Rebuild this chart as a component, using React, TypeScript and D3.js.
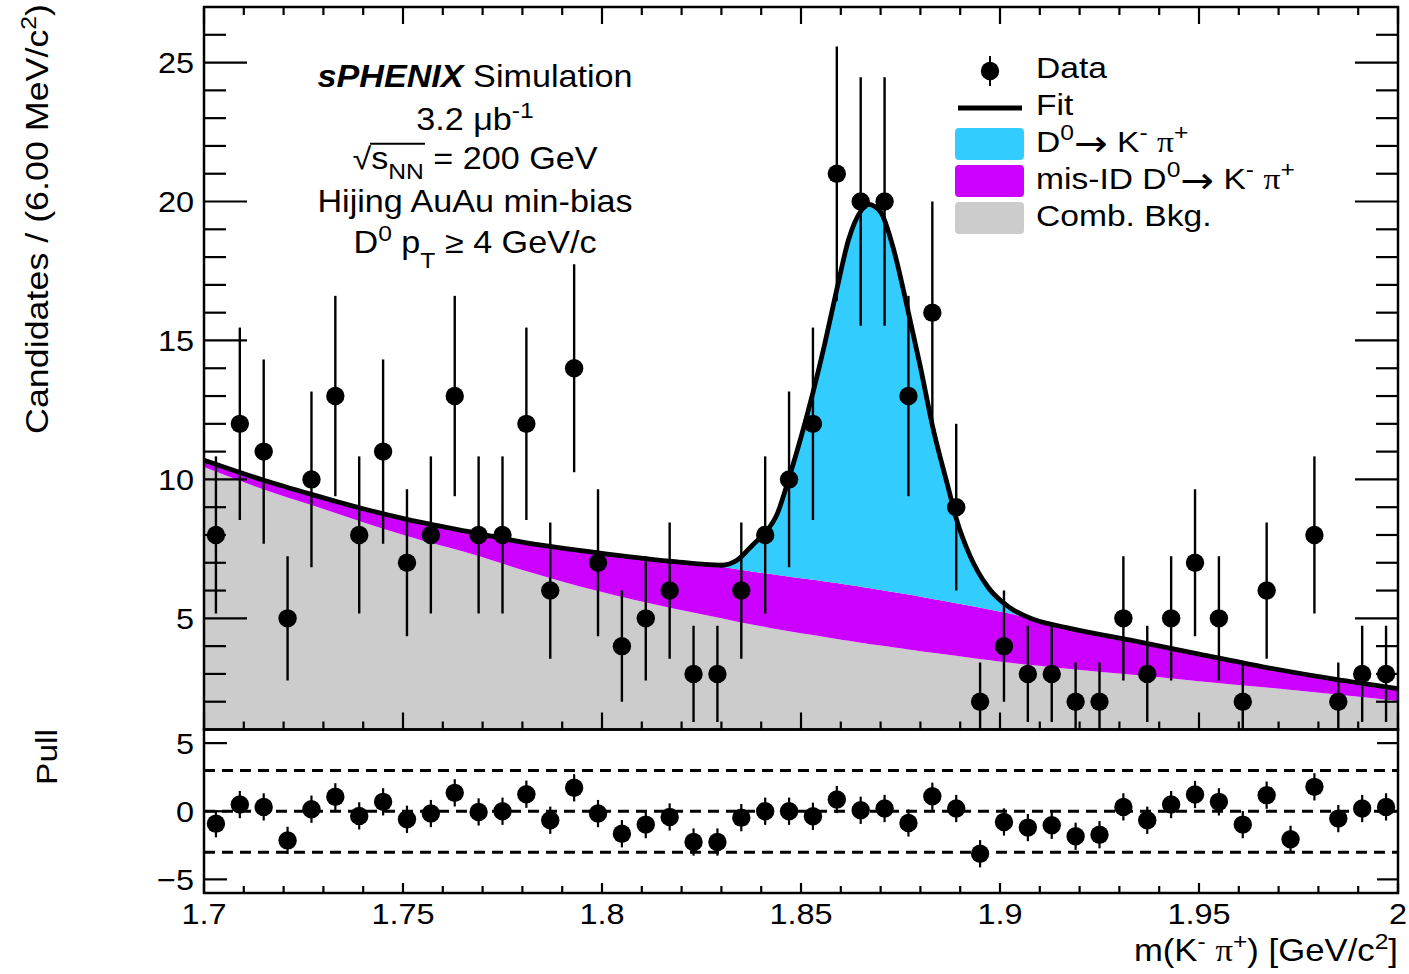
import React, { useLayoutEffect, useRef, useState } from 'react';
import * as d3 from 'd3';

// ---------------- data ----------------
const massBins = [1.703, 1.709, 1.715, 1.721, 1.727, 1.733, 1.739, 1.745, 1.751, 1.757,
  1.763, 1.769, 1.775, 1.781, 1.787, 1.793, 1.799, 1.805, 1.811, 1.817,
  1.823, 1.829, 1.835, 1.841, 1.847, 1.853, 1.859, 1.865, 1.871, 1.877,
  1.883, 1.889, 1.895, 1.901, 1.907, 1.913, 1.919, 1.925, 1.931, 1.937,
  1.943, 1.949, 1.955, 1.961, 1.967, 1.973, 1.979, 1.985, 1.991, 1.997];
const counts = [8, 12, 11, 5, 10, 13, 8, 11, 7, 8,
  13, 8, 8, 12, 6, 14, 7, 4, 5, 6,
  3, 3, 6, 8, 10, 12, 21, 20, 20, 13,
  16, 9, 2, 4, 3, 3, 2, 2, 5, 3,
  5, 7, 5, 2, 6, 0, 8, 2, 3, 3];
const pulls = [-0.91, 0.49, 0.32, -2.14, 0.15, 1.06, -0.34, 0.69, -0.59, -0.17,
  1.35, -0.05, 0.0, 1.25, -0.66, 1.72, -0.17, -1.65, -0.98, -0.42,
  -2.26, -2.26, -0.47, 0.0, 0.0, -0.37, 0.86, 0.07, 0.2, -0.86,
  1.1, 0.2, -3.12, -0.79, -1.2, -1.03, -1.84, -1.72, 0.32, -0.66,
  0.49, 1.23, 0.69, -0.98, 1.18, -2.06, 1.79, -0.54, 0.2, 0.32];

// fit curves
const curveMass = [1.700, 1.715, 1.727, 1.739, 1.751, 1.769, 1.780, 1.799, 1.817, 1.830,
  1.834, 1.838, 1.841, 1.844, 1.847, 1.853, 1.856, 1.859, 1.862, 1.865,
  1.867, 1.870, 1.873, 1.877, 1.880, 1.883, 1.887, 1.889, 1.8925, 1.897,
  1.9025, 1.9085, 1.917, 1.934, 1.950, 1.967, 1.984, 2.000];
const fitTotal = [10.69, 9.97, 9.46, 8.98, 8.56, 8.05, 7.74, 7.36, 7.06, 6.91,
  7.10, 7.66, 8.08, 8.75, 10.06, 13.12, 14.9, 16.84, 18.65, 19.65,
  19.9, 19.62, 18.42, 16.0, 14.05, 11.95, 9.7, 8.6, 7.24, 6.12,
  5.38, 4.96, 4.66, 4.18, 3.71, 3.23, 2.81, 2.47];
const misIdTop = [10.65, 9.93, 9.42, 8.94, 8.52, 8.01, 7.70, 7.32, 7.02, 6.86,
  6.77, 6.68, 6.62, 6.56, 6.50, 6.39, 6.33, 6.27, 6.20, 6.14,
  6.09, 6.02, 5.95, 5.86, 5.78, 5.70, 5.60, 5.54, 5.45, 5.33,
  5.17, 4.95, 4.63, 4.15, 3.68, 3.20, 2.78, 2.44];
const combTop = [10.45, 9.64, 9.08, 8.50, 7.96, 7.24, 6.74, 5.98, 5.38, 5.00,
  4.88, 4.77, 4.69, 4.61, 4.54, 4.40, 4.33, 4.26, 4.19, 4.12,
  4.08, 4.02, 3.96, 3.88, 3.82, 3.76, 3.69, 3.65, 3.58, 3.50,
  3.40, 3.31, 3.19, 2.96, 2.74, 2.51, 2.27, 2.03];

// axes
const xTickValues = [1.7, 1.75, 1.8, 1.85, 1.9, 1.95, 2.0];
const xTickLabels = ['1.7', '1.75', '1.8', '1.85', '1.9', '1.95', '2'];
const yTickValues = [5, 10, 15, 20, 25];
const yTickLabels = ['5', '10', '15', '20', '25'];
const pullTickValues = [-5, 0, 5];
const pullTickLabels = ['\u22125', '0', '5'];
const pullLines = [-3, 0, 3];

const COL_SIG = '#33ccff';
const COL_MIS = '#cc00ff';
const COL_BKG = '#cccccc';
const FONT = '"Liberation Sans", Arimo, Arial, Helvetica, sans-serif';
const SERIF = '"Liberation Serif", "DejaVu Serif", serif';
const ARROWFONT = '"DejaVu Sans", sans-serif';
const SX = 1.12;

function Txt({ x, y, size, anchor = 'start', rotate = 0, children }: any) {
  return (
    <g transform={`translate(${x},${y}) rotate(${rotate}) scale(${SX},1)`}>
      <text x={0} y={0} fontSize={size} textAnchor={anchor} fontFamily={FONT} fill="#000">
        {children}
      </text>
    </g>
  );
}

function DecayLabel({ size }: { size: number }) {
  const s = Math.round(size * 0.72);
  const up = Math.round(size * 0.4);
  return (
    <>
      D<tspan dy={-up} fontSize={s}>0</tspan>
      <tspan dy={up + 4} fontFamily={ARROWFONT} fontSize={size * 1.2}>{'\u2192'}</tspan>
      <tspan dy={-4}>{' K'}</tspan>
      <tspan dy={-up} fontSize={s}>-</tspan>
      <tspan dy={up}>{'  '}</tspan>
      <tspan fontFamily={SERIF}>{'\u03c0'}</tspan>
      <tspan dy={-up} fontSize={s}>+</tspan>
    </>
  );
}

export default function App() {
  const W = 1409, H = 974;
  const L = 204, R = 1398;
  const x = d3.scaleLinear().domain([1.7, 2.0]).range([L, R]);
  const y = d3.scaleLinear().domain([1, 27]).range([729.5, 7]);
  const yp = d3.scaleLinear().domain([-6, 6]).range([893, 729.5]);

  const idx = d3.range(curveMass.length);
  const curve = d3.curveMonotoneX;
  const bkgArea = d3.area<number>().x(i => x(curveMass[i])).y0(y(0)).y1(i => y(combTop[i])).curve(curve);
  const misArea = d3.area<number>().x(i => x(curveMass[i])).y0(i => y(combTop[i])).y1(i => y(misIdTop[i])).curve(curve);
  const sigArea = d3.area<number>().x(i => x(curveMass[i])).y0(i => y(misIdTop[i])).y1(i => y(fitTotal[i])).curve(curve);
  const fitLine = d3.line<number>().x(i => x(curveMass[i])).y(i => y(fitTotal[i])).curve(curve);

  const xMinor = x.ticks(30);
  const isMajorX = (v: number) => Math.abs(v * 20 - Math.round(v * 20)) < 1e-6;
  const yMinor = d3.range(2, 27);

  const sqrtRef = useRef<SVGTextElement>(null);
  const [ov, setOv] = useState<{ x1: number; x2: number; y: number } | null>(null);
  useLayoutEffect(() => {
    const t = sqrtRef.current;
    if (!t) return;
    try {
      const e0 = t.getExtentOfChar(0);
      const e1 = t.getExtentOfChar(1);
      const e3 = t.getExtentOfChar(3);
      setOv({ x1: e1.x - 1, x2: e3.x + e3.width + 1, y: e0.y + 2 });
    } catch (err) { /* ignore */ }
  }, []);

  const fsAxis = 29;
  const fsText = 30;
  const fsAnn = 30.5;
  const sup = Math.round(fsText * 0.72);

  return (
    <svg width={W} height={H} style={{ position: 'absolute', left: 0, top: 0, background: '#fff' }}
      fontFamily={FONT}>
      <defs>
        <clipPath id="mainClip"><rect x={L} y={7} width={R - L} height={729.5 - 7} /></clipPath>
        <clipPath id="pullClip"><rect x={L} y={729.5} width={R - L} height={893 - 729.5} /></clipPath>
      </defs>
      <rect x={0} y={0} width={W} height={H} fill="#fff" />

      {/* ---- main panel fills ---- */}
      <g clipPath="url(#mainClip)">
        <path d={bkgArea(idx) || ''} fill={COL_BKG} />
        <path d={misArea(idx) || ''} fill={COL_MIS} />
        <path d={sigArea(idx) || ''} fill={COL_SIG} />
        <path d={fitLine(idx) || ''} fill="none" stroke="#000" strokeWidth={4.8} />
        {massBins.map((m, i) => {
          const e = Math.sqrt(counts[i]);
          return (
            <g key={i}>
              <line x1={x(m)} x2={x(m)} y1={y(counts[i] - e)} y2={y(counts[i] + e)} stroke="#000" strokeWidth={2.4} />
              <circle cx={x(m)} cy={y(counts[i])} r={9.2} fill="#000" />
            </g>
          );
        })}
      </g>

      {/* ---- main frame & ticks ---- */}
      <rect x={L} y={7} width={R - L} height={729.5 - 7} fill="none" stroke="#000" strokeWidth={2.5} />
      {yMinor.map(v => {
        const len = v % 5 === 0 ? 43 : 22;
        return (
          <g key={'yt' + v}>
            <line x1={L} x2={L + len} y1={y(v)} y2={y(v)} stroke="#000" strokeWidth={2.2} />
            <line x1={R} x2={R - len} y1={y(v)} y2={y(v)} stroke="#000" strokeWidth={2.2} />
          </g>
        );
      })}
      {xMinor.map((v, i) => {
        const len = isMajorX(v) ? 17 : 8;
        return (
          <g key={'xt' + i}>
            <line x1={x(v)} x2={x(v)} y1={729.5} y2={729.5 - len} stroke="#000" strokeWidth={2.2} />
            <line x1={x(v)} x2={x(v)} y1={7} y2={7 + len} stroke="#000" strokeWidth={2.2} />
          </g>
        );
      })}
      {yTickValues.map((v, i) => (
        <Txt key={'yl' + v} x={194} y={y(v) + 10.5} size={fsAxis} anchor="end">{yTickLabels[i]}</Txt>
      ))}

      {/* ---- pull panel ---- */}
      <g clipPath="url(#pullClip)">
        {pullLines.map(v => (
          <line key={'pl' + v} x1={L} x2={R} y1={yp(v)} y2={yp(v)} stroke="#000" strokeWidth={3} strokeDasharray="11 7" />
        ))}
        {massBins.map((m, i) => (
          <g key={'p' + i}>
            <line x1={x(m)} x2={x(m)} y1={yp(pulls[i] - 1)} y2={yp(pulls[i] + 1)} stroke="#000" strokeWidth={2.2} />
            <circle cx={x(m)} cy={yp(pulls[i])} r={9.2} fill="#000" />
          </g>
        ))}
      </g>
      <rect x={L} y={729.5} width={R - L} height={893 - 729.5} fill="none" stroke="#000" strokeWidth={2.5} />
      {pullTickValues.map((v, i) => (
        <g key={'pt' + v}>
          <line x1={L} x2={L + 23} y1={yp(v)} y2={yp(v)} stroke="#000" strokeWidth={2.2} />
          <line x1={R} x2={R - 21} y1={yp(v)} y2={yp(v)} stroke="#000" strokeWidth={2.2} />
          <Txt x={194} y={yp(v) + 10.5} size={fsAxis} anchor="end">{pullTickLabels[i]}</Txt>
        </g>
      ))}
      {xMinor.map((v, i) => {
        const len = isMajorX(v) ? 10 : 7;
        return <line key={'pxt' + i} x1={x(v)} x2={x(v)} y1={893} y2={893 - len} stroke="#000" strokeWidth={2.2} />;
      })}
      {xTickValues.map((v, i) => (
        <Txt key={'xl' + i} x={x(v)} y={924} size={fsAxis} anchor="middle">{xTickLabels[i]}</Txt>
      ))}

      {/* ---- axis titles ---- */}
      <Txt x={R} y={961} size={31} anchor="end">
        m(K<tspan dy={-12} fontSize={sup}>-</tspan>
        <tspan dy={12}>{'  '}</tspan>
        <tspan fontFamily={SERIF}>{'\u03c0'}</tspan>
        <tspan dy={-12} fontSize={sup}>+</tspan>
        <tspan dy={12}>) [GeV/c</tspan>
        <tspan dy={-12} fontSize={sup}>2</tspan>
        <tspan dy={12}>]</tspan>
      </Txt>
      <Txt x={48} y={4} size={32} anchor="end" rotate={-90}>
        Candidates / (6.00 MeV/c<tspan dy={-12} fontSize={sup}>2</tspan>
        <tspan dy={12}>)</tspan>
      </Txt>
      <Txt x={57} y={729} size={fsText} anchor="end" rotate={-90}>Pull</Txt>

      {/* ---- annotation ---- */}
      <Txt x={475} y={87} size={fsAnn} anchor="middle">
        <tspan fontWeight="bold" fontStyle="italic">sPHENIX</tspan> Simulation
      </Txt>
      <Txt x={475} y={130} size={fsAnn} anchor="middle">
        3.2 {'\u03bc'}b<tspan dy={-12} fontSize={sup}>-1</tspan>
      </Txt>
      <g transform={`translate(475,169) scale(${SX},1)`}>
        <text ref={sqrtRef} x={0} y={0} fontSize={fsAnn} textAnchor="middle" fontFamily={FONT}>
          {'\u221a'}s<tspan dy={10} fontSize={sup}>NN</tspan>
          <tspan dy={-10}> = 200 GeV</tspan>
        </text>
        {ov && <line x1={ov.x1} x2={ov.x2} y1={ov.y} y2={ov.y} stroke="#000" strokeWidth={2} />}
      </g>
      <Txt x={475} y={212} size={fsAnn} anchor="middle">Hijing AuAu min-bias</Txt>
      <Txt x={475} y={253} size={fsAnn} anchor="middle">
        D<tspan dy={-12} fontSize={sup}>0</tspan>
        <tspan dy={12}> p</tspan>
        <tspan dy={15} fontSize={sup}>T</tspan>
        <tspan dy={-15}> {'\u2265'} 4 GeV/c</tspan>
      </Txt>

      {/* ---- legend ---- */}
      <line x1={990} x2={990} y1={56} y2={86} stroke="#000" strokeWidth={2} />
      <circle cx={990} cy={71} r={9.2} fill="#000" />
      <Txt x={1036} y={78} size={fsText}>Data</Txt>
      <line x1={958} x2={1022} y1={108} y2={108} stroke="#000" strokeWidth={5} />
      <Txt x={1036} y={115} size={fsText}>Fit</Txt>
      <rect x={955} y={128} width={69} height={32} rx={4} fill={COL_SIG} />
      <Txt x={1036} y={152} size={fsText}><DecayLabel size={fsText} /></Txt>
      <rect x={955} y={165} width={69} height={32} rx={4} fill={COL_MIS} />
      <Txt x={1036} y={189} size={fsText}>mis-ID <DecayLabel size={fsText} /></Txt>
      <rect x={955} y={202} width={69} height={32} rx={4} fill={COL_BKG} />
      <Txt x={1036} y={226} size={fsText}>Comb. Bkg.</Txt>
    </svg>
  );
}
